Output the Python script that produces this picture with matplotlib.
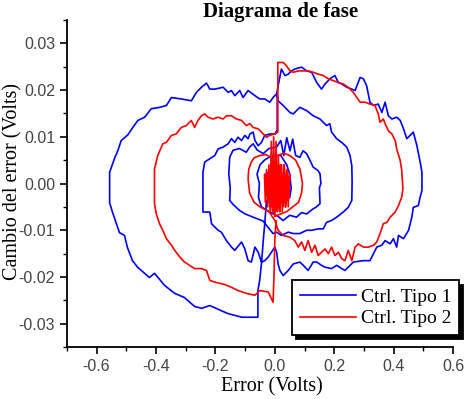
import matplotlib
matplotlib.use('Agg')
import matplotlib.pyplot as plt
from matplotlib.ticker import MultipleLocator

plt.rcParams['axes.unicode_minus'] = False

# ---- datos (error, cambio del error) ----
# Ctrl Tipo 1 (azul), por tramos
blue_jump = [(-0.028, -0.0036), (-0.034, -0.0086), (-0.039, -0.0122), (-0.045, -0.0171),
             (-0.051, -0.0207), (-0.057, -0.0229), (-0.057, -0.0286)]
blue_outer_left = [
    (-0.111, -0.0286), (-0.159, -0.0278), (-0.219, -0.0261), (-0.246, -0.0267), (-0.270, -0.0263),
    (-0.304, -0.0244), (-0.337, -0.0235), (-0.371, -0.0218), (-0.405, -0.0192), (-0.422, -0.0201),
    (-0.462, -0.0179), (-0.479, -0.0165), (-0.496, -0.0137), (-0.506, -0.0111), (-0.523, -0.0105),
    (-0.546, -0.0062), (-0.556, -0.0041), (-0.556, 0.0006), (-0.556, 0.0024), (-0.540, 0.0053),
    (-0.528, 0.0071), (-0.517, 0.0092), (-0.495, 0.0104), (-0.478, 0.0120), (-0.461, 0.0135),
    (-0.438, 0.0142), (-0.416, 0.0160), (-0.388, 0.0163), (-0.365, 0.0167), (-0.348, 0.0184),
    (-0.315, 0.0181), (-0.281, 0.0177), (-0.264, 0.0195), (-0.247, 0.0206), (-0.230, 0.0215),
    (-0.219, 0.0202), (-0.202, 0.0202), (-0.174, 0.0206), (-0.157, 0.0195), (-0.146, 0.0199),
    (-0.135, 0.0188), (-0.118, 0.0199), (-0.107, 0.0184), (-0.090, 0.0199), (-0.067, 0.0188),
    (-0.051, 0.0181), (-0.034, 0.0181), (-0.017, 0.0174), (-0.006, 0.0184), (0.006, 0.0192)]
blue_outer_right = [
    (0.022, 0.0245), (0.034, 0.0231), (0.045, 0.0234), (0.056, 0.0241), (0.067, 0.0245),
    (0.090, 0.0249), (0.107, 0.0241), (0.124, 0.0238), (0.141, 0.0216), (0.157, 0.0202),
    (0.169, 0.0213), (0.185, 0.0224), (0.202, 0.0231), (0.214, 0.0216), (0.225, 0.0213),
    (0.242, 0.0206), (0.259, 0.0202), (0.270, 0.0199), (0.287, 0.0227), (0.298, 0.0224),
    (0.309, 0.0209), (0.320, 0.0174), (0.332, 0.0167), (0.348, 0.0170), (0.360, 0.0152),
    (0.371, 0.0174), (0.382, 0.0145), (0.394, 0.0138), (0.410, 0.0142), (0.422, 0.0135),
    (0.433, 0.0117), (0.444, 0.0096), (0.455, 0.0103), (0.466, 0.0110), (0.478, 0.0081),
    (0.489, 0.0046), (0.495, 0.0024), (0.495, -0.0015), (0.489, -0.0029), (0.483, -0.0047),
    (0.466, -0.0051), (0.461, -0.0072), (0.450, -0.0100), (0.433, -0.0118), (0.416, -0.0111),
    (0.410, -0.0136), (0.399, -0.0118), (0.388, -0.0129), (0.371, -0.0122), (0.360, -0.0132),
    (0.343, -0.0136), (0.320, -0.0165), (0.298, -0.0165), (0.264, -0.0168), (0.253, -0.0175),
    (0.236, -0.0186), (0.225, -0.0182), (0.208, -0.0175), (0.191, -0.0182), (0.169, -0.0179),
    (0.157, -0.0175), (0.141, -0.0168), (0.129, -0.0168), (0.112, -0.0186), (0.096, -0.0175),
    (0.084, -0.0168), (0.062, -0.0172), (0.045, -0.0186), (0.028, -0.0197), (0.017, -0.0186),
    (0.011, -0.0172), (0.006, -0.0147), (0.000, -0.0136)]
blue_mid_left = [
    (-0.022, -0.0157), (-0.034, -0.0165), (-0.045, -0.0168), (-0.056, -0.0147), (-0.067, -0.0136),
    (-0.079, -0.0168), (-0.090, -0.0165), (-0.101, -0.0140), (-0.112, -0.0125), (-0.135, -0.0143),
    (-0.146, -0.0136), (-0.163, -0.0122), (-0.180, -0.0104), (-0.191, -0.0100), (-0.213, -0.0086),
    (-0.219, -0.0061), (-0.242, -0.0061), (-0.242, 0.0006), (-0.242, 0.0024), (-0.236, 0.0046),
    (-0.219, 0.0053), (-0.202, 0.0060), (-0.191, 0.0074), (-0.174, 0.0078), (-0.157, 0.0085),
    (-0.146, 0.0096), (-0.135, 0.0088), (-0.124, 0.0099), (-0.112, 0.0092), (-0.101, 0.0103),
    (-0.090, 0.0096), (-0.084, 0.0106), (-0.073, 0.0110), (-0.067, 0.0092), (-0.056, 0.0081),
    (-0.045, 0.0088), (-0.034, 0.0103), (-0.017, 0.0106), (0.000, 0.0106), (0.008, 0.0115),
    (0.008, 0.0190)]
blue_mid_right = [
    (0.011, 0.0177), (0.028, 0.0167), (0.051, 0.0152), (0.062, 0.0149), (0.084, 0.0163),
    (0.107, 0.0156), (0.129, 0.0145), (0.152, 0.0138), (0.174, 0.0124), (0.185, 0.0128),
    (0.191, 0.0110), (0.208, 0.0096), (0.225, 0.0088), (0.242, 0.0078), (0.253, 0.0060),
    (0.259, 0.0038), (0.260, 0.0003), (0.259, -0.0036), (0.247, -0.0051),
    (0.230, -0.0061), (0.208, -0.0072), (0.191, -0.0079), (0.174, -0.0083), (0.163, -0.0097),
    (0.146, -0.0097), (0.124, -0.0100), (0.107, -0.0100), (0.084, -0.0107), (0.062, -0.0107),
    (0.045, -0.0104), (0.022, -0.0111), (0.006, -0.0104), (-0.006, -0.0107)]
blue_inner = [
    (-0.040, -0.0080), (-0.073, -0.0072), (-0.100, -0.0065), (-0.118, -0.0058), (-0.140, -0.0045),
    (-0.152, -0.0036), (-0.150, -0.0010), (-0.155, 0.0020), (-0.152, 0.0056), (-0.141, 0.0071),
    (-0.120, 0.0075), (-0.096, 0.0067), (-0.085, 0.0078), (-0.073, 0.0085), (-0.060, 0.0072),
    (-0.039, 0.0064), (-0.020, 0.0075), (0.006, 0.0078), (0.020, 0.0092), (0.030, 0.0060),
    (0.040, 0.0098), (0.051, 0.0070), (0.060, 0.0095), (0.070, 0.0060), (0.084, 0.0056),
    (0.095, 0.0070), (0.107, 0.0064), (0.118, 0.0050), (0.129, 0.0035), (0.145, 0.0028),
    (0.152, 0.0021), (0.155, 0.0000), (0.150, -0.0009), (0.152, -0.0043), (0.140, -0.0050),
    (0.129, -0.0054), (0.107, -0.0065), (0.090, -0.0062), (0.073, -0.0072), (0.050, -0.0068),
    (0.028, -0.0079), (0.010, -0.0070), (-0.020, -0.0060), (-0.045, -0.0050), (-0.055, -0.0030),
    (-0.052, 0.0000), (-0.060, 0.0020), (-0.050, 0.0040), (-0.035, 0.0050), (-0.010, 0.0060),
    (0.020, 0.0060), (0.040, 0.0040), (0.050, 0.0020), (0.055, -0.0010), (0.050, -0.0030),
    (0.030, -0.0040), (0.010, -0.0040), (-0.020, -0.0030), (-0.030, -0.0010), (-0.030, 0.0020),
    (-0.010, 0.0030), (0.010, 0.0020), (0.020, 0.0000), (0.010, -0.0020), (0.000, -0.0010)]

# Ctrl Tipo 2 (rojo), por tramos
red_jump_down = [(0.004, -0.0080), (0.000, -0.0120), (-0.003, -0.0200), (-0.006, -0.0254)]
red_left = [
    (-0.022, -0.0232), (-0.051, -0.0229), (-0.067, -0.0239), (-0.090, -0.0236), (-0.124, -0.0229),
    (-0.146, -0.0222), (-0.169, -0.0216), (-0.202, -0.0211), (-0.219, -0.0207), (-0.230, -0.0186),
    (-0.247, -0.0182), (-0.270, -0.0182), (-0.287, -0.0175), (-0.304, -0.0168), (-0.320, -0.0157),
    (-0.337, -0.0143), (-0.348, -0.0132), (-0.365, -0.0118), (-0.377, -0.0100), (-0.388, -0.0086),
    (-0.399, -0.0065), (-0.405, -0.0043), (-0.405, 0.0006), (-0.405, 0.0031), (-0.394, 0.0060),
    (-0.377, 0.0085), (-0.365, 0.0088), (-0.348, 0.0103), (-0.332, 0.0106), (-0.315, 0.0120),
    (-0.298, 0.0124), (-0.281, 0.0135), (-0.270, 0.0120), (-0.259, 0.0135), (-0.247, 0.0145),
    (-0.236, 0.0149), (-0.225, 0.0142), (-0.208, 0.0138), (-0.191, 0.0142), (-0.174, 0.0138),
    (-0.163, 0.0145), (-0.146, 0.0145), (-0.129, 0.0138), (-0.112, 0.0135), (-0.096, 0.0124),
    (-0.084, 0.0128), (-0.073, 0.0120), (-0.056, 0.0117), (-0.039, 0.0106), (-0.028, 0.0099),
    (-0.017, 0.0103), (0.000, 0.0106), (0.010, 0.0110), (0.010, 0.0259)]
red_right = [
    (0.028, 0.0259), (0.039, 0.0252), (0.051, 0.0241), (0.062, 0.0238), (0.079, 0.0241),
    (0.096, 0.0241), (0.112, 0.0241), (0.129, 0.0238), (0.146, 0.0234), (0.163, 0.0231),
    (0.180, 0.0224), (0.197, 0.0220), (0.214, 0.0216), (0.230, 0.0213), (0.247, 0.0206),
    (0.264, 0.0195), (0.276, 0.0184), (0.287, 0.0174), (0.304, 0.0174), (0.320, 0.0170),
    (0.337, 0.0167), (0.348, 0.0149), (0.354, 0.0131), (0.365, 0.0138), (0.371, 0.0128),
    (0.382, 0.0113), (0.394, 0.0106), (0.405, 0.0092), (0.410, 0.0074), (0.422, 0.0049),
    (0.427, 0.0028), (0.431, -0.0011), (0.427, -0.0029), (0.416, -0.0047), (0.405, -0.0061),
    (0.388, -0.0072), (0.377, -0.0083), (0.365, -0.0086), (0.354, -0.0107), (0.343, -0.0125),
    (0.332, -0.0132), (0.315, -0.0136), (0.298, -0.0136), (0.281, -0.0129), (0.270, -0.0136),
    (0.259, -0.0165), (0.247, -0.0143), (0.236, -0.0165), (0.225, -0.0161), (0.214, -0.0147),
    (0.202, -0.0154), (0.191, -0.0136), (0.180, -0.0150), (0.169, -0.0140), (0.157, -0.0147),
    (0.146, -0.0154), (0.135, -0.0132), (0.124, -0.0147), (0.112, -0.0122), (0.101, -0.0143),
    (0.090, -0.0125), (0.079, -0.0136), (0.067, -0.0122), (0.051, -0.0115), (0.028, -0.0111),
    (0.011, -0.0100), (0.000, -0.0079)]
red_inner = [
    (-0.020, -0.0060), (-0.050, -0.0050), (-0.070, -0.0040), (-0.085, -0.0020), (-0.090, 0.0010),
    (-0.088, 0.0030), (-0.080, 0.0045), (-0.070, 0.0055), (-0.050, 0.0060), (-0.030, 0.0062),
    (-0.010, 0.0055), (0.010, 0.0060), (0.030, 0.0065), (0.050, 0.0060), (0.070, 0.0050),
    (0.085, 0.0030), (0.093, 0.0000), (0.090, -0.0020), (0.080, -0.0040), (0.060, -0.0050),
    (0.040, -0.0060), (0.020, -0.0065), (0.000, -0.0070),
    (-0.035, 0.0020), (-0.032, -0.0040), (-0.028, 0.0030), (-0.024, -0.0050), (-0.020, 0.0040),
    (-0.016, -0.0060), (-0.012, 0.0090), (-0.008, -0.0060), (-0.004, 0.0100), (0.000, -0.0070),
    (0.004, 0.0090), (0.008, -0.0060), (0.012, 0.0060), (0.016, -0.0060), (0.020, 0.0040),
    (0.025, -0.0060), (0.030, 0.0040), (0.035, -0.0050), (0.040, 0.0030), (0.045, -0.0050),
    (0.050, 0.0020), (0.047, -0.0030), (0.042, 0.0030), (0.037, -0.0050), (0.032, 0.0040),
    (0.027, -0.0050), (0.022, 0.0040), (0.017, -0.0060), (0.013, 0.0040), (0.009, -0.0060),
    (0.005, 0.0040), (0.001, -0.0060), (-0.003, 0.0040), (-0.007, -0.0060), (-0.011, 0.0040),
    (-0.015, -0.0050), (-0.019, 0.0030), (-0.023, -0.0040), (-0.027, 0.0020), (-0.020, -0.0030),
    (-0.010, 0.0020), (0.000, -0.0020), (0.010, 0.0010), (0.015, -0.0030)]

blue = blue_jump + blue_outer_left + blue_outer_right + blue_mid_left + blue_mid_right + blue_inner
red = red_jump_down + red_left + red_right + red_inner

x_ticks = [-0.6, -0.4, -0.2, 0.0, 0.2, 0.4, 0.6]
x_tick_labels = ['-0.6', '-0.4', '-0.2', '0.0', '0.2', '0.4', '0.6']
y_ticks = [-0.03, -0.02, -0.01, 0.0, 0.01, 0.02, 0.03]
y_tick_labels = ['-0.03', '-0.02', '-0.01', '0.00', '0.01', '0.02', '0.03']

fig = plt.figure(figsize=(4.74, 3.99), dpi=100)
ax = fig.add_axes([0.141, 0.130, 0.815, 0.820])

ax.plot([p[0] for p in blue], [p[1] for p in blue], color='#0000ff', lw=1.2, label='Ctrl. Tipo 1')
ax.plot([p[0] for p in red], [p[1] for p in red], color='#ff0000', lw=1.2, label='Ctrl. Tipo 2')

ax.set_xlim(-0.7, 0.6)
ax.set_ylim(-0.035, 0.035)

for s in ['top', 'right']:
    ax.spines[s].set_visible(False)
for s in ['left', 'bottom']:
    ax.spines[s].set_linewidth(1.3)

ax.set_xticks(x_ticks)
ax.set_xticklabels(x_tick_labels)
ax.set_yticks(y_ticks)
ax.set_yticklabels(y_tick_labels)
ax.xaxis.set_minor_locator(MultipleLocator(0.1))
ax.yaxis.set_minor_locator(MultipleLocator(0.005))
ax.tick_params(which='major', direction='out', length=5, width=1.2, labelsize=11.5,
               labelcolor='#444444', labelfontfamily='Liberation Sans')
ax.tick_params(which='minor', direction='out', length=3, width=1.0)

serif = 'Liberation Serif'
ax.set_title('Diagrama de fase', family=serif, fontweight='bold', fontsize=15,
             x=0.554, y=1.008, pad=0)
ax.set_xlabel('Error (Volts)', family=serif, fontsize=14.5)
ax.set_ylabel('Cambio del error (Volts)', family=serif, fontsize=14.5)
ax.xaxis.set_label_coords(0.53, -0.092)
ax.yaxis.set_label_coords(-0.115, 0.505)

leg = ax.legend(loc='lower left', bbox_to_anchor=(0.616, 0.160), bbox_transform=fig.transFigure,
                borderaxespad=0, fancybox=False, prop={'family': serif, 'size': 14},
                handlelength=2.9, handletextpad=0.25, borderpad=0.4, labelspacing=0.2,
                shadow={'ox': 3, 'oy': -3, 'facecolor': 'k', 'edgecolor': 'k', 'alpha': 1})
leg.get_frame().set_edgecolor('black')
leg.get_frame().set_linewidth(1.3)
leg.get_frame().set_alpha(1)

fig.savefig('out.png', dpi=100, facecolor='white')
plt.close()
